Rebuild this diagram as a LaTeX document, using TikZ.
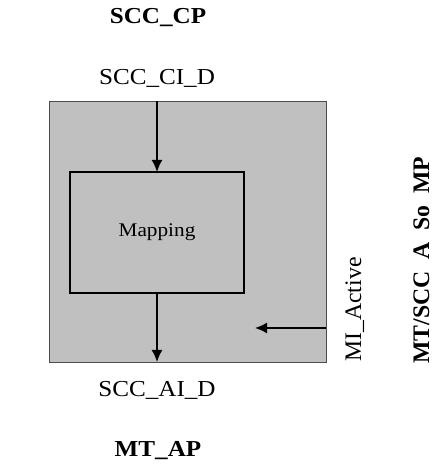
\documentclass[tikz,border=0pt]{standalone}
\usepackage{fontspec}
\setmainfont{Liberation Serif}
\usepackage{tikz}
\usetikzlibrary{arrows.meta}
\usepackage{xcolor}
\definecolor{boxgray}{RGB}{192,192,192}
\tikzset{
    lbl/.style={font=\fontsize{13}{15}\selectfont, xscale=1.1, inner sep=0pt},
    bold lbl/.style={lbl, font=\fontsize{13}{15}\selectfont\bfseries},
    side lbl/.style={font=\fontsize{13.5}{16}\selectfont, rotate=90, anchor=base, inner sep=0pt}
}

\begin{document}
\begin{tikzpicture}[>={Latex[length=2.4mm, width=2.2mm]}]
    \useasboundingbox (0, 0) rectangle (8.64, 9.36);
    \node[draw=black!70, fill=boxgray, line width=0.5pt, minimum width=5.54cm, minimum height=5.22cm, inner sep=0pt, outer sep=0pt] (outer) at (3.75, 4.73) {};
    \node[draw, fill=boxgray, line width=1pt, minimum width=3.48cm, minimum height=2.42cm, inner sep=0pt, outer sep=0pt] (map) at (3.14, 4.71) {};
    \node[lbl, font=\fontsize{11}{13}\selectfont] (maptxt) at (map.center) {Mapping};
    % labels
    \node[bold lbl] (cp) at (3.16, 9.0) {SCC\_CP};
    \node[lbl] (ci) at (3.14, 7.8) {SCC\_CI\_D};
    \node[lbl] (ai) at (3.14, 1.56) {SCC\_AI\_D};
    \node[bold lbl] (ap) at (3.16, 0.34) {MT\_AP};
    \node[side lbl] (act) at (7.22, 3.17) {MI\_Active};
    \node[side lbl, font=\fontsize{13.5}{16}\selectfont\bfseries] (mp) at (8.58, 4.16) {MT/SCC\enspace A\enspace So\enspace MP};
    % signal flow
    \draw[->, line width=0.9pt] (map.north |- outer.north) -- (map.north);
    \draw[->, line width=0.9pt] (map.south) -- (map.south |- outer.south);
    \coordinate (actin) at (outer.east |- 0, 2.80);
    \coordinate (actend) at (5.10, 2.80);
    \draw[->, line width=0.9pt] (actin) -- (actend);
\end{tikzpicture}
\end{document}
